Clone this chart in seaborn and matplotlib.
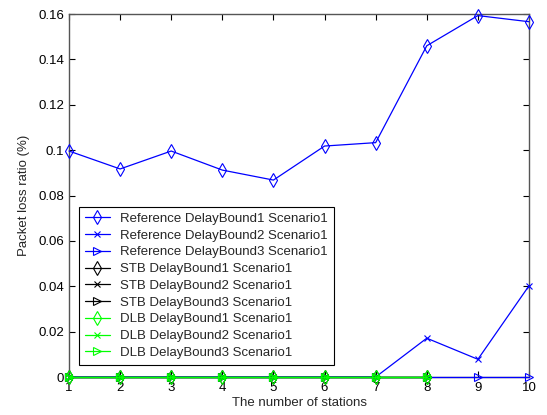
import numpy as np
import pandas as pd
import matplotlib
matplotlib.use("Agg")
import matplotlib.pyplot as plt
import seaborn as sns

stations = [1, 2, 3, 4, 5, 6, 7, 8, 9, 10]
ref_db1 = [0.0996, 0.0917, 0.0996, 0.0912, 0.0868, 0.1018, 0.1033, 0.1460, 0.1593, 0.1566]
ref_db2 = [0, 0, 0, 0, 0, 0, 0, 0.0171, 0.0078, 0.0402]
ref_db3 = [0, 0, 0, 0, 0, 0, 0, 0, 0, 0]
stb_stations = [1, 2, 3, 4, 5, 6, 7, 8]
stb_db1 = [0, 0, 0, 0, 0, 0, 0, 0]
stb_db2 = [0, 0, 0, 0, 0, 0, 0, 0]
stb_db3 = [0, 0, 0, 0, 0, 0, 0, 0]
dlb_stations = [1, 2, 3, 4, 5, 6, 7, 8]
dlb_db1 = [0, 0, 0, 0, 0, 0, 0, 0]
dlb_db2 = [0, 0, 0, 0, 0, 0, 0, 0]
dlb_db3 = [0, 0, 0, 0, 0, 0, 0, 0]

series = [
    ("Reference DelayBound1 Scenario1", stations, ref_db1, "#0000ff", "d"),
    ("Reference DelayBound2 Scenario1", stations, ref_db2, "#0000ff", "x"),
    ("Reference DelayBound3 Scenario1", stations, ref_db3, "#0000ff", ">"),
    ("STB DelayBound1 Scenario1", stb_stations, stb_db1, "#000000", "d"),
    ("STB DelayBound2 Scenario1", stb_stations, stb_db2, "#000000", "x"),
    ("STB DelayBound3 Scenario1", stb_stations, stb_db3, "#000000", ">"),
    ("DLB DelayBound1 Scenario1", dlb_stations, dlb_db1, "#00ff00", "d"),
    ("DLB DelayBound2 Scenario1", dlb_stations, dlb_db2, "#00ff00", "x"),
    ("DLB DelayBound3 Scenario1", dlb_stations, dlb_db3, "#00ff00", ">"),
]
marker_sizes = {"d": 7.5, "x": 4, ">": 6}

sns.set_style("white")
plt.rcParams["font.family"] = ["Liberation Sans", "DejaVu Sans"]

fig = plt.figure(figsize=(5.47, 4.15), dpi=100)
ax = fig.add_axes([69 / 547, 1 - 377 / 415, 460 / 547, 363 / 415])

for name, xs, ys, col, mk in series:
    df = pd.DataFrame({"x": xs, "y": ys})
    sns.lineplot(data=df, x="x", y="y", ax=ax, color=col, marker=mk,
                 markersize=marker_sizes[mk], markerfacecolor="none",
                 markeredgecolor=col, markeredgewidth=0.8, linewidth=0.9,
                 label=name, clip_on=False, zorder=3)

ax.set_xlim(1, 10)
ax.set_ylim(0, 0.16)
ax.set_xticks(range(1, 11))
ax.set_yticks([0, 0.02, 0.04, 0.06, 0.08, 0.1, 0.12, 0.14, 0.16])
ax.set_yticklabels(["0", "0.02", "0.04", "0.06", "0.08", "0.1", "0.12", "0.14", "0.16"])
ax.tick_params(direction="in", length=4, width=0.8, labelsize=9.5, colors="#000000",
               top=True, right=True, bottom=True, left=True)
for s in ax.spines.values():
    s.set_color("#555555")
    s.set_linewidth(1.0)
    s.set_visible(True)
ax.set_xlabel("The number of stations", fontsize=9.5, labelpad=2)
ax.set_ylabel("Packet loss ratio (%)", fontsize=9.5, labelpad=6)

leg = ax.legend(loc="lower left", bbox_to_anchor=(10 / 460, 12 / 363), frameon=True,
                fancybox=False, framealpha=1, edgecolor="#000000", fontsize=9.5,
                handlelength=1.9, labelspacing=0.345, borderpad=0.45,
                handletextpad=0.75, borderaxespad=0)
leg.get_frame().set_linewidth(0.8)

fig.savefig("out.png", dpi=100)
